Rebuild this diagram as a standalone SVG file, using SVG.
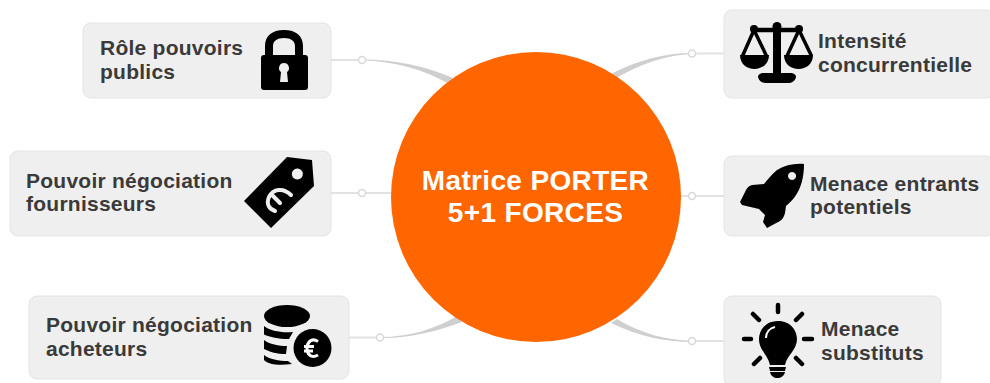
<svg xmlns="http://www.w3.org/2000/svg" width="990" height="383" viewBox="0 0 990 383">
<style>
.box{fill:#efefef;stroke:#e4e4e4;stroke-width:1}
.t{font-family:"Liberation Sans",Arial,sans-serif;font-weight:700;font-size:21px;letter-spacing:.25px;fill:#3a3a3a}
.title{font-family:"Liberation Sans",Arial,sans-serif;font-weight:700;font-size:28px;letter-spacing:.35px;fill:#fff;text-anchor:middle}
.ln{fill:none;stroke:#e2e2e2;stroke-width:2}
.tp{fill:#cfcfcf}
.dot{fill:#fff;stroke:#d8d8d8;stroke-width:1.500}
.i{fill:#000}
</style>
<g id="connectors">
<path class="tp" d="M362 59.500C395 59.500 425 66 453 78L449 84C425 70 395 61 362 60.500Z"/>
<path class="ln" d="M331 60H362"/><circle class="dot" cx="362" cy="60" r="3.500"/>
<path class="ln" d="M331 193H392"/><circle class="dot" cx="362" cy="193" r="3.500"/>
<path class="tp" d="M380 337C410 337 435 329 457 316L462 322C437 331 410 338.500 380 338Z"/>
<path class="ln" d="M349 337.500H380"/><circle class="dot" cx="380" cy="337.500" r="3.500"/>
<path class="tp" d="M692 53C665 53 638 60 611 74L616 78C640 65 665 54.500 692 54Z"/>
<path class="ln" d="M692 53.500H724"/><circle class="dot" cx="692" cy="53.500" r="3.500"/>
<path class="ln" d="M680 196H724"/><circle class="dot" cx="692" cy="196" r="3.500"/>
<path class="tp" d="M692 341C665 340 640 333 617 319L611 323C638 336 665 342 692 342Z"/>
<path class="ln" d="M692 341H724"/><circle class="dot" cx="692" cy="341" r="3.500"/>
</g>
<g id="center"><circle cx="536" cy="197" r="145" fill="#ff6600"/>
<text class="title" x="535.500" y="190">Matrice PORTER</text><text class="title" x="535.500" y="222">5+1 FORCES</text></g>
<g id="node-pouvoirs-publics"><rect class="box" x="83" y="23" width="248" height="75" rx="8"/>
<text class="t" x="100" y="55">Rôle pouvoirs</text><text class="t" x="100" y="79">publics</text>
<path class="i" fill-rule="evenodd" d="M265 55V46C265 36 272 30 284 30S303 36 303 46V55H305Q308 55 308 58V87Q308 90 305 90H264Q261 90 261 87V58Q261 55 264 55ZM273 55H295V46C295 41 291 38 284 38S273 41 273 46ZM284 63A5 5 0 0 0 281 72L280 82H288L287 72A5 5 0 0 0 284 63Z"/></g>
<g id="node-fournisseurs"><rect class="box" x="10" y="151" width="321" height="85" rx="8"/>
<text class="t" x="26" y="188">Pouvoir négociation</text><text class="t" x="26" y="211">fournisseurs</text>
<path class="i" fill-rule="evenodd" d="M244 201L287 157L312 160L314 186L271 228ZM297.300 168.500A5.500 5.500 0 1 0 297.400 168.500Z"/>
<path d="M291 195C283 187 273 189 269 197C266 204 269 209 275 211M273 196L280 203" fill="none" stroke="#efefef" stroke-width="4" stroke-linecap="round"/></g>
<g id="node-acheteurs"><rect class="box" x="29" y="296" width="320" height="83" rx="8"/>
<text class="t" x="46" y="332">Pouvoir négociation</text><text class="t" x="46" y="356">acheteurs</text>
<g id="coins"><ellipse class="i" cx="287" cy="316" rx="23" ry="11"/>
<path class="i" d="M264 326C270 331 282 333 293 332L289 339C278 339 270 337 264 334.500ZM264 340C269 344 279 346 287 346L286 354C277 354 270 352 264 349ZM264 355C269 359 279 361 288 361L292 364C280 365.500 269 365 264 360Z"/>
<circle class="i" cx="312.500" cy="348" r="19"/>
<path d="M318 341.500C311 337 307 343 307 348.500C307 354 311 359 318 355M304 346.500H314M304 351H313" fill="none" stroke="#fff" stroke-width="3"/></g></g>
<g id="node-intensite"><rect class="box" x="724" y="10" width="270" height="88" rx="8"/>
<text class="t" x="818" y="48">Intensité</text><text class="t" x="818" y="72">concurrentielle</text>
<g id="scales"><circle class="i" cx="777" cy="26.500" r="4.500"/><circle class="i" cx="754" cy="29" r="4"/><circle class="i" cx="799" cy="29" r="4"/>
<path d="M754 30H799" stroke="#000" stroke-width="4.500" fill="none"/>
<path class="i" d="M773 28H781V73H790C794 73 796 75 796 77C795 81 792 83 788 83H766C762 83 759 81 758 77C758 75 760 73 764 73H773Z"/>
<path d="M754 30L742.500 56M754 30L766.500 56M799 30L787 56M799 30L811.500 56" fill="none" stroke="#000" stroke-width="3.500"/>
<path class="i" d="M740 55H769C769 64 762 69 754.500 69S740 64 740 55ZM784 55H813C813 64 806 69 798.500 69S784 64 784 55Z"/></g></g>
<g id="node-entrants"><rect class="box" x="724" y="156" width="270" height="80" rx="8"/>
<text class="t" x="810" y="191">Menace entrants</text><text class="t" x="810" y="214">potentiels</text>
<path class="i" fill-rule="evenodd" d="M804 164C795 163 785 165 777 170C772 174 768 179 764 184L752 185Q748 186 746 190L740 202L742 205L759 209L765 215L763 222L767 228L780 221Q784 218 785 213L786 206C796 198 804 186 804 164ZM792 172A4 4 0 1 0 792.100 172Z"/></g>
<g id="node-substituts"><rect class="box" x="724" y="296" width="217" height="90" rx="8"/>
<text class="t" x="821" y="336">Menace</text><text class="t" x="821" y="360">substituts</text>
<path class="i" d="M778 321C765 321 759 331 759 339C759 350 768 355 770 365H785C787 355 797 350 797 339C797 331 791 321 778 321ZM769 367H786L785 371H770ZM770 372H785C784 376 781 378 777.500 378S771 376 770 372Z"/>
<path d="M766 338C766 332 770 328 775 327" fill="none" stroke="#fff" stroke-width="2"/>
<path stroke="#000" stroke-width="4.500" stroke-linecap="round" fill="none" d="M778 305V312M753 314L759 320M802 314L796 320M744 339H751M804 339H812M754 364L760 358M802 364L796 358"/></g>
</svg>
